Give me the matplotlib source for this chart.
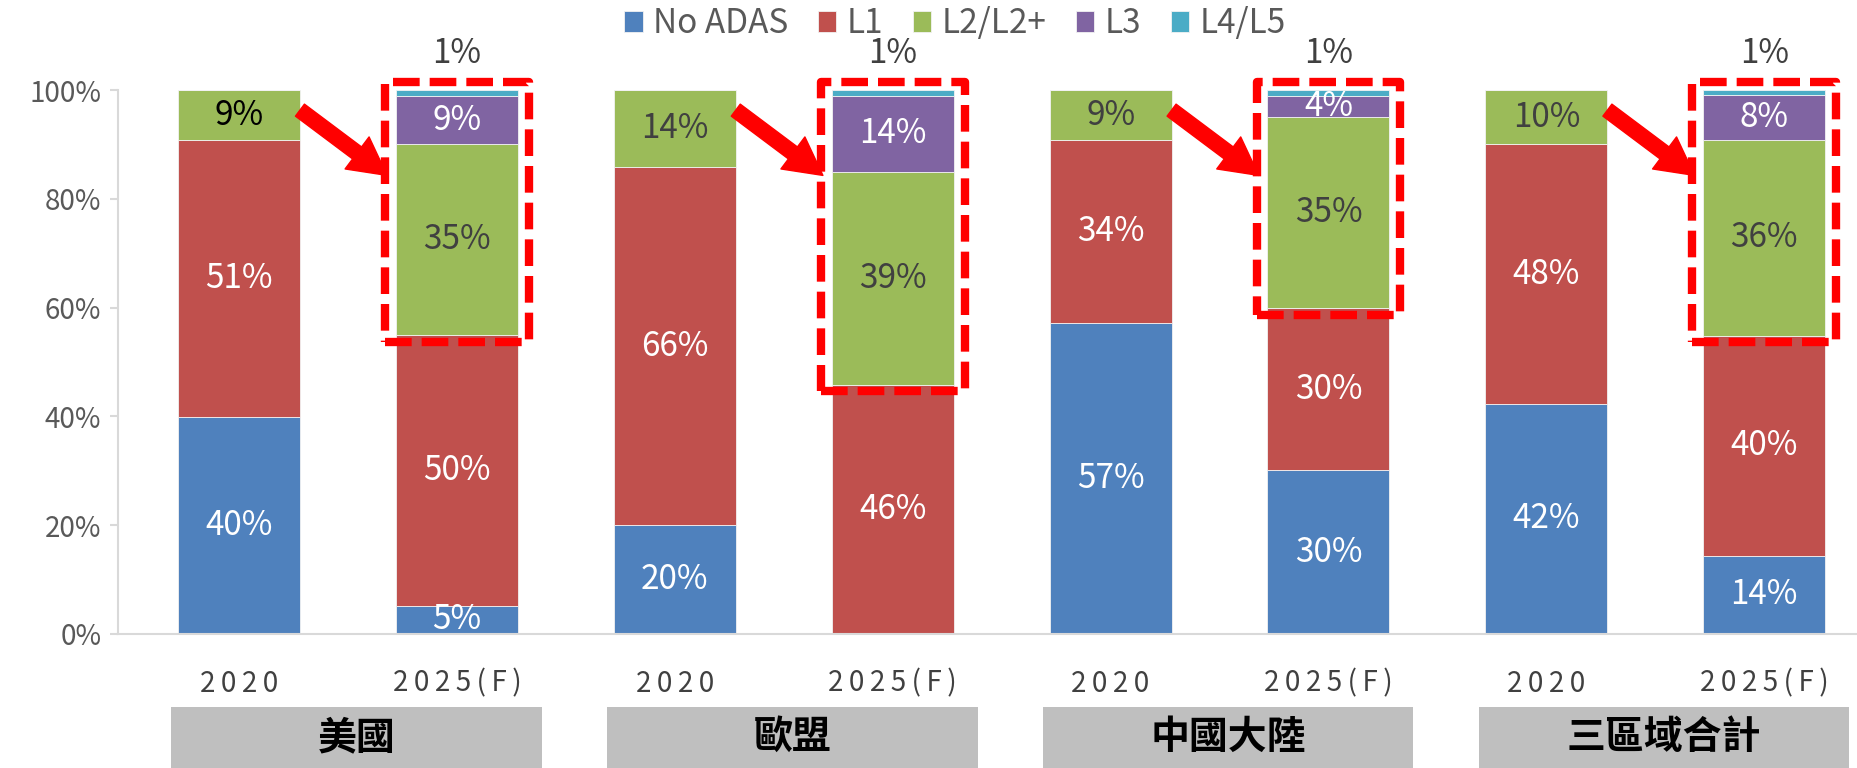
import numpy as np
import matplotlib.pyplot as plt
import matplotlib.transforms as mtransforms
from matplotlib.patches import Rectangle

plt.rcParams['font.family'] = ['Noto Sans CJK TC', 'DejaVu Sans']

# data (percent of new cars)
regions = ['美國', '歐盟', '中國大陸', '三區域合計']
years = ['2020', '2025(F)', '2020', '2025(F)', '2020', '2025(F)', '2020', '2025(F)']
levels = ['No ADAS', 'L1', 'L2/L2+', 'L3', 'L4/L5']
colors = ['#4F81BD', '#C0504D', '#9BBB59', '#8064A2', '#4BACC6']

no_adas = [39.9, 5.2, 20.0, 0.0, 57.1, 30.1, 42.3, 14.4]
l1 = [50.9, 49.7, 65.8, 45.8, 33.7, 29.8, 47.7, 40.4]
l2 = [9.2, 35.1, 14.2, 39.2, 9.2, 35.1, 10.0, 36.1]
l3 = [0.0, 8.9, 0.0, 13.9, 0.0, 3.9, 0.0, 8.2]
l45 = [0.0, 1.1, 0.0, 1.1, 0.0, 1.1, 0.0, 0.9]

series = [no_adas, l1, l2, l3, l45]
x = np.arange(len(years))
bar_w = 0.56

fig = plt.figure(figsize=(18.58, 7.68), dpi=100)
ax = fig.add_axes([0.0635, 0.1745, 0.9365, 0.7083])

bottom = np.zeros(len(years))
for name, vals, col in zip(levels, series, colors):
    vals = np.array(vals)
    ax.bar(x, vals, bar_w, bottom=bottom, color=col, label=name,
           edgecolor='#F2F2F2', linewidth=0.6)
    for i, v in enumerate(vals):
        if v <= 0:
            continue
        if name == 'L4/L5':
            # the thin top slice is labelled above the bar
            ax.text(x[i], 106.8, f'{v:.0f}%', ha='center', va='center',
                    fontsize=24, color='#404040', clip_on=False)
        else:
            tc = 'white'
            if name == 'L2/L2+':
                tc = 'black' if i == 0 else '#404040'
            ax.text(x[i], bottom[i] + v / 2, f'{v:.0f}%', ha='center',
                    va='center', fontsize=24, color=tc)
    bottom += vals

# red dashed boxes around the forecast L2+ part, and arrows from 2020
base = np.array(no_adas) + np.array(l1)
for i in [1, 3, 5, 7]:
    y0 = base[i] - 1.2
    ax.add_patch(Rectangle((x[i] - bar_w / 2 - 0.05, y0), bar_w + 0.1, 101.5 - y0,
                           fill=False, edgecolor='#FF0000', linewidth=6,
                           linestyle=(0, (3.2, 1.2)), joinstyle='round',
                           clip_on=False, zorder=5))
    ax.annotate('', xy=(x[i] - 0.32, 84.3), xytext=(x[i - 1] + bar_w / 2, 96.3),
                arrowprops=dict(arrowstyle='simple,head_length=0.75,head_width=0.8,tail_width=0.3',
                                color='#FF0000', mutation_scale=36,
                                shrinkA=0, shrinkB=0), zorder=6)

ax.set_xlim(-0.555, 7.43)
ax.set_ylim(0, 100)
ax.set_yticks([0, 20, 40, 60, 80, 100])
ax.set_yticklabels([f'{t}%' for t in [0, 20, 40, 60, 80, 100]])
ax.set_xticks(x)
# the year labels are letter-spaced in the original
ax.set_xticklabels(['\u2009'.join(y) for y in years])
ax.tick_params(axis='y', length=6, color='#D9D9D9', width=1.5,
               labelsize=20, labelcolor='#595959', pad=6)
ax.tick_params(axis='x', length=0, labelsize=20, labelcolor='#404040', pad=25)
for s in ['top', 'right']:
    ax.spines[s].set_visible(False)
for s in ['left', 'bottom']:
    ax.spines[s].set_color('#D9D9D9')
    ax.spines[s].set_linewidth(1.5)

# region boxes under the year labels
trans = mtransforms.blended_transform_factory(ax.transData, ax.transAxes)
for g, reg in enumerate(regions):
    ax.add_patch(Rectangle((2 * g - 0.31, -0.246), 1.70, 0.112, transform=trans,
                           facecolor='#BFBFBF', edgecolor='none', clip_on=False))
    ax.text(2 * g + 0.54, -0.19, reg, transform=trans, ha='center', va='center',
            fontsize=28, fontweight='bold', color='black')

ax.legend(loc='center', bbox_to_anchor=(0.514, 0.969), bbox_transform=fig.transFigure,
          ncol=5, frameon=False, fontsize=24, handlelength=0.55, handleheight=0.55,
          handletextpad=0.3, columnspacing=0.9, labelcolor='#595959')

fig.savefig('out.png', dpi=100)
